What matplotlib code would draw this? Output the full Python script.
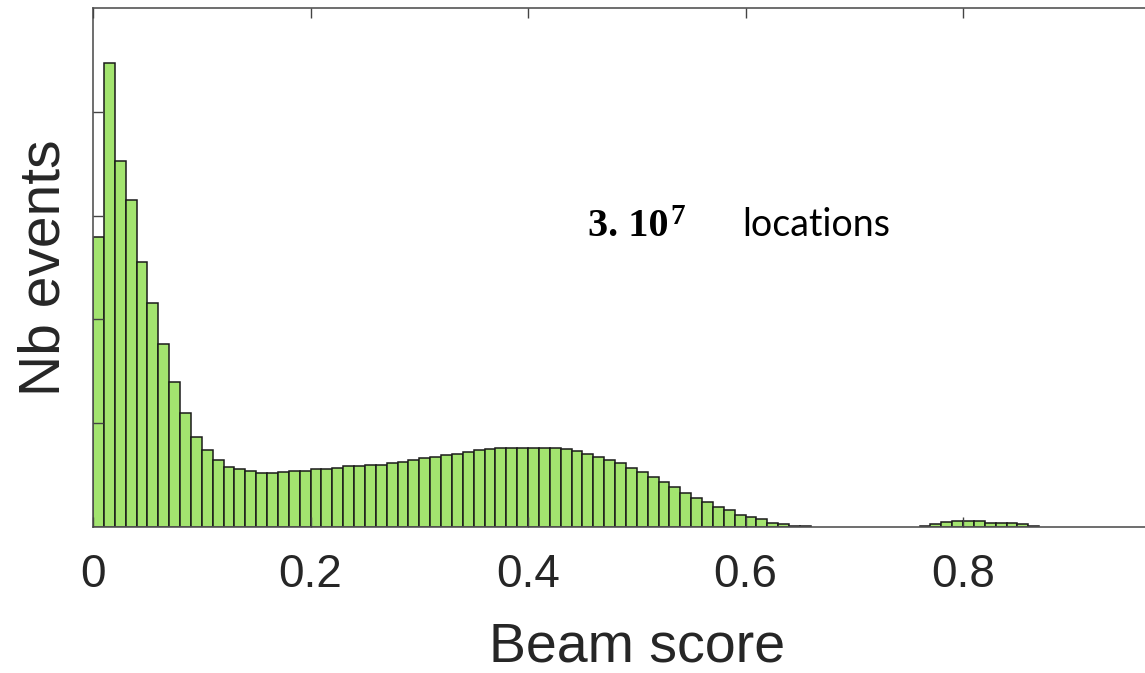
import numpy as np
import matplotlib
matplotlib.use("Agg")
import matplotlib.pyplot as plt

# ---- data (heights in units of the y-tick spacing) ----
bin_width = 0.01
bin_starts = [round(i * bin_width, 2) for i in range(87)]
counts = [
    2.79, 4.47, 3.53, 3.15, 2.55, 2.16, 1.76, 1.40, 1.10, 0.87,
    0.74, 0.645, 0.58, 0.556, 0.54, 0.525, 0.525, 0.526, 0.542, 0.542,
    0.555, 0.555, 0.571, 0.583, 0.583, 0.599, 0.599, 0.615, 0.631, 0.644,
    0.66, 0.676, 0.689, 0.708, 0.721, 0.737, 0.75, 0.763, 0.763, 0.763,
    0.763, 0.763, 0.763, 0.75, 0.734, 0.708, 0.676, 0.644, 0.619, 0.571,
    0.529, 0.478, 0.436, 0.388, 0.33, 0.282, 0.237, 0.192, 0.163, 0.119,
    0.093, 0.074, 0.038, 0.026, 0.012, 0.012, 0, 0, 0, 0,
    0, 0, 0, 0, 0, 0, 0.013, 0.029, 0.045, 0.061,
    0.061, 0.054, 0.042, 0.042, 0.042, 0.029, 0.013,
]
xticks = [0, 0.2, 0.4, 0.6, 0.8, 1.0]
xticklabels = ["0", "0.2", "0.4", "0.6", "0.8", ""]
yticks = [1, 2, 3, 4]

fig = plt.figure(figsize=(11.45, 6.73), dpi=100)
ax = fig.add_axes([93 / 1145, 146 / 673, 1087.5 / 1145, 519 / 673])

xs = [s for s, c in zip(bin_starts, counts) if c > 0]
hs = [c for c in counts if c > 0]
ax.bar(xs, hs, width=bin_width, align="edge", color="#a3e46f",
       edgecolor="#1a1a1a", linewidth=1.1, zorder=1)

ax.set_xlim(0, 1)
ax.set_ylim(0, 5)
ax.set_axisbelow(False)

ax.set_xticks(xticks)
ax.set_xticklabels(xticklabels, fontsize=33, color="#262626",
                   family="Liberation Sans")
ax.set_yticks(yticks)
ax.set_yticklabels([])
ax.tick_params(direction="in", length=7, width=1.0, color="#444444",
               top=True, right=True)
ax.tick_params(axis="x", pad=19)
for sp in ax.spines.values():
    sp.set_color("#555555")
    sp.set_linewidth(1.2)

ax.set_xlabel("Beam score", fontsize=40, color="#262626",
              family="Liberation Sans", labelpad=17)
ax.set_ylabel("Nb events", fontsize=41, color="#262626",
              family="Liberation Sans", labelpad=12)

t1 = fig.text(588 / 1145, 1 - 236 / 673, "3. 10", fontsize=29,
              family="Liberation Serif", weight="bold",
              color="black", ha="left", va="baseline")
ax.annotate("7", xy=(1.0, 0.58), xycoords=t1, xytext=(1, 0),
            textcoords="offset points", fontsize=21,
            family="Liberation Serif", weight="bold",
            ha="left", va="baseline", color="black")
fig.text(742 / 1145, 1 - 236 / 673, "locations", fontsize=27,
         color="black", ha="left", va="baseline", family="Lato")

fig.savefig("out.png", dpi=100)
